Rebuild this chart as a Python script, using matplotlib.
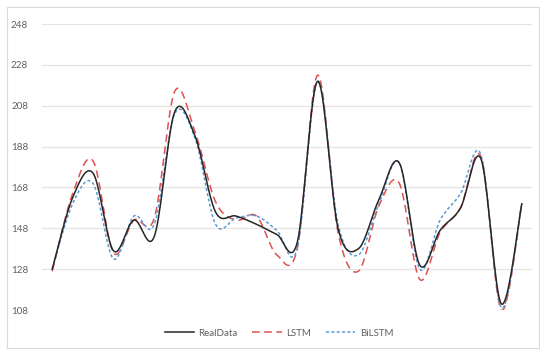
import matplotlib
matplotlib.use("Agg")
import matplotlib.pyplot as plt
import numpy as np
from matplotlib.patches import Rectangle

# values (24 points per series)
real_data = [128, 163, 175, 137, 152, 144, 205, 193, 156, 154, 150, 145,
             141, 220, 148, 138, 162, 180, 130, 147, 158, 182, 111, 160]
lstm = [127, 165, 181, 136, 152, 153, 215, 195, 161, 152, 154, 135,
        138, 223, 146, 127, 159, 170, 123, 146, 158, 183, 108, 160]
bilstm = [128, 160, 170, 133, 154, 150, 204, 192, 150, 153, 154, 147,
          138, 220, 150, 135, 160, 180, 128, 152, 165, 184, 109, 160]
y_ticks = [108, 128, 148, 168, 188, 208, 228, 248]


def smooth(values, steps=20):
    """Excel-like smoothed line (Catmull-Rom through the points)."""
    p = np.asarray(values, dtype=float)
    x = np.arange(len(p), dtype=float)
    pts = np.column_stack([x, p])
    ext = np.vstack([pts[0], pts, pts[-1]])
    out = []
    t = np.linspace(0, 1, steps, endpoint=False)[:, None]
    for i in range(len(pts) - 1):
        p0, p1, p2, p3 = ext[i], ext[i + 1], ext[i + 2], ext[i + 3]
        c1 = p1 + (p2 - p0) / 6
        c2 = p2 - (p3 - p1) / 6
        seg = ((1 - t) ** 3) * p1 + 3 * ((1 - t) ** 2) * t * c1 \
            + 3 * (1 - t) * t ** 2 * c2 + t ** 3 * p2
        out.append(seg)
    out.append(pts[-1][None, :])
    out = np.vstack(out)
    return out[:, 0], out[:, 1]


plt.rcParams["font.family"] = ["Lato", "DejaVu Sans"]

fig = plt.figure(figsize=(5.4, 3.49), dpi=100)
fig.patches.append(Rectangle((7 / 540, 1 / 349), 532 / 540, 341 / 349,
                             transform=fig.transFigure, fill=False,
                             edgecolor="#d9d9d9", linewidth=0.8))

ax = fig.add_axes([42 / 540, 1 - 310 / 349, 490 / 540, 286 / 349])

sx, sy = smooth(real_data)
ax.plot(sx, sy, color="#262626", linewidth=1.1, label="RealData", zorder=3)
sx, sy = smooth(lstm)
ax.plot(sx, sy, color="#e05050", linewidth=1.1, linestyle=(0, (5, 3)),
        label="LSTM", zorder=2)
sx, sy = smooth(bilstm)
ax.plot(sx, sy, color="#5b9bd5", linewidth=1.1, linestyle=(0, (2, 1.5)),
        label="BiLSTM", zorder=2)

ax.set_xlim(-0.5, len(real_data) - 0.5)
ax.set_ylim(y_ticks[0], y_ticks[-1])
ax.set_yticks(y_ticks)
ax.set_xticks([])
ax.grid(axis="y", color="#e4e4e4", linewidth=0.9)
ax.set_axisbelow(True)
ax.tick_params(axis="y", length=0, pad=10, labelsize=7, labelcolor="#606060")
for s in ax.spines.values():
    s.set_visible(False)

fig.legend(loc="center", bbox_to_anchor=(279 / 540, 1 - 333 / 349), ncol=3,
           frameon=False, fontsize=7, handlelength=3.0, columnspacing=1.5,
           handletextpad=0.5, labelcolor="#606060")

fig.savefig("out.png", dpi=100)
